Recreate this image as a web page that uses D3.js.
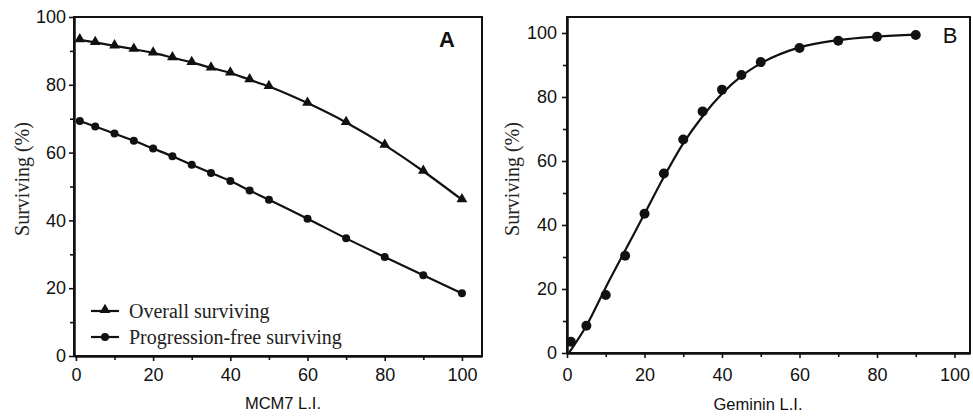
<!doctype html>
<html>
<head>
    <style>
        body { margin: 0; background: #fff; }
        .tick text { font-family: 'Liberation Sans', Arial, sans-serif; font-size: 18px; fill: #111; }
        .title { font-family: 'Liberation Sans', Arial, sans-serif; font-size: 16.5px; fill: #111; }
        .ytitle, .legend { font-family: 'Liberation Serif', 'Times New Roman', serif; font-size: 20px; fill: #222; }
    </style>
    <script src="https://d3js.org/d3.v7.min.js"></script>
</head>
<body>
    <script>
        /*** data ***/
        var mcmX = [1, 5, 10, 15, 20, 25, 30, 35, 40, 45, 50, 60, 70, 80, 90, 100];
        var overall = [93.3, 92.5, 91.5, 90.5, 89.4, 88.0, 86.6, 85.0, 83.5, 81.5, 79.5, 74.6, 68.9, 62.2, 54.5, 46.1];
        var progFree = [69.3, 67.7, 65.6, 63.5, 61.2, 58.9, 56.4, 54.0, 51.6, 48.8, 46.1, 40.5, 34.7, 29.2, 23.8, 18.5];

        var gemX = [1, 5, 10, 15, 20, 25, 30, 35, 40, 45, 50, 60, 70, 80, 90];
        var gemY = [3.5, 8.5, 18.1, 30.4, 43.5, 56.1, 66.7, 75.5, 82.3, 86.9, 90.9, 95.3, 97.6, 98.8, 99.4];
        // fitted curve
        var fitX = [0.5, 5, 10, 15, 20, 25, 30, 35, 40, 45, 50, 60, 70, 80, 90];
        var fitY = [0, 8.5, 20.5, 32, 43.5, 55, 65.5, 74, 81, 86.5, 90.5, 95.5, 97.8, 98.9, 99.5];

        var majorTicks = [0, 20, 40, 60, 80, 100];
        var minorTicks = [10, 30, 50, 70, 90];
        var legendLabels = ["Overall surviving", "Progression-free surviving"];

        var svg = d3.select("body").append("svg").attr("width", 973).attr("height", 418);

        function drawAxes(x, y, opt) {
            var g = svg.append("g");
            var x0 = x.range()[0], x1 = x.range()[1];
            var y0 = y.range()[0], y1 = y.range()[1];

            // frame
            g.append("rect")
                .attr("x", x0).attr("y", y1)
                .attr("width", x1 - x0).attr("height", y0 - y1)
                .attr("fill", "none").attr("stroke", "#111").attr("stroke-width", 2);

            g.append("g").attr("transform", "translate(0," + y0 + ")")
                .call(d3.axisBottom(x).tickValues(majorTicks).tickSize(5).tickPadding(opt.xPad).tickSizeOuter(0));
            g.append("g").attr("transform", "translate(0," + y0 + ")")
                .call(d3.axisBottom(x).tickValues(minorTicks).tickSize(4).tickFormat("").tickSizeOuter(0));
            g.append("g").attr("transform", "translate(" + x0 + ",0)")
                .call(d3.axisLeft(y).tickValues(majorTicks).tickSize(5).tickPadding(opt.yPad).tickSizeOuter(0));
            g.append("g").attr("transform", "translate(" + x0 + ",0)")
                .call(d3.axisLeft(y).tickValues(minorTicks).tickSize(4).tickFormat("").tickSizeOuter(0));

            g.selectAll(".domain").attr("stroke", "#111").attr("stroke-width", 2);
            g.selectAll(".tick line").attr("stroke", "#111").attr("stroke-width", 1.6);

            g.append("text").attr("class", "title")
                .attr("x", opt.xtX).attr("y", opt.xtY)
                .attr("text-anchor", "middle")
                .text(opt.xTitle);

            g.append("text").attr("class", "ytitle")
                .attr("transform", "translate(" + opt.ytX + "," + opt.ytY + ") rotate(-90)")
                .attr("text-anchor", "middle")
                .attr("dy", "0.35em")
                .text("Surviving (%)");

            g.append("text")
                .attr("x", opt.lblX).attr("y", opt.lblY)
                .attr("text-anchor", "middle")
                .style("font-family", "'Liberation Sans', Arial, sans-serif")
                .style("font-size", opt.lblSize + "px")
                .style("font-weight", opt.lblWeight)
                .attr("fill", "#111")
                .text(opt.label);
            return g;
        }

        /*** Panel A ***/
        var xA = d3.scaleLinear().domain([-0.5, 105.2]).range([74, 482]);
        var yA = d3.scaleLinear().domain([0, 100]).range([356, 17]);
        drawAxes(xA, yA, {
            xPad: 7, yPad: 3, xTitle: "MCM7 L.I.", xtX: 283, xtY: 409,
            ytX: 22, ytY: 179, label: "A", lblX: 447, lblY: 47, lblSize: 22, lblWeight: "bold"
        });

        var triangle = d3.symbol().type(d3.symbolTriangle).size(50);
        var lineA = d3.line().curve(d3.curveMonotoneX)
            .x(function(d) { return xA(d[0]); })
            .y(function(d) { return yA(d[1]); });

        [overall, progFree].forEach(function(series, i) {
            var pts = mcmX.map(function(v, j) { return [v, series[j]]; });
            svg.append("path").datum(pts)
                .attr("d", lineA)
                .attr("fill", "none").attr("stroke", "#111").attr("stroke-width", 2.2);
            if (i === 0) {
                svg.selectAll(".tri").data(pts).enter().append("path")
                    .attr("d", triangle)
                    .attr("transform", function(d) { return "translate(" + xA(d[0]) + "," + (yA(d[1]) - 0.5) + ")"; })
                    .attr("fill", "#111");
            } else {
                svg.selectAll(".dot").data(pts).enter().append("circle")
                    .attr("cx", function(d) { return xA(d[0]); })
                    .attr("cy", function(d) { return yA(d[1]); })
                    .attr("r", 4)
                    .attr("fill", "#111");
            }
        });

        // legend
        var leg = svg.append("g");
        legendLabels.forEach(function(t, i) {
            var ly = 311 + i * 26;
            leg.append("line").attr("x1", 91).attr("x2", 119).attr("y1", ly).attr("y2", ly)
                .attr("stroke", "#111").attr("stroke-width", 2.2);
            if (i === 0) {
                leg.append("path").attr("d", triangle)
                    .attr("transform", "translate(105," + (ly - 1) + ")").attr("fill", "#111");
            } else {
                leg.append("circle").attr("cx", 105).attr("cy", ly).attr("r", 4).attr("fill", "#111");
            }
            leg.append("text").attr("class", "legend")
                .attr("x", 129).attr("y", ly).attr("dy", "0.33em")
                .text(t);
        });

        /*** Panel B ***/
        var xB = d3.scaleLinear().domain([0, 104]).range([567, 970]);
        var yB = d3.scaleLinear().domain([0, 105]).range([353, 17]);
        drawAxes(xB, yB, {
            xPad: 10, yPad: 5, xTitle: "Geminin L.I.", xtX: 758, xtY: 410,
            ytX: 512, ytY: 179, label: "B", lblX: 950, lblY: 43, lblSize: 22, lblWeight: "normal"
        });

        var lineB = d3.line().curve(d3.curveMonotoneX)
            .x(function(d) { return xB(d[0]); })
            .y(function(d) { return yB(d[1]); });
        svg.append("path").datum(fitX.map(function(v, j) { return [v, fitY[j]]; }))
            .attr("d", lineB)
            .attr("fill", "none").attr("stroke", "#111").attr("stroke-width", 2.2);
        svg.selectAll(".gdot").data(gemX.map(function(v, j) { return [v, gemY[j]]; }))
            .enter().append("circle")
            .attr("cx", function(d) { return xB(d[0]); })
            .attr("cy", function(d) { return yB(d[1]); })
            .attr("r", 5)
            .attr("fill", "#111");
    </script>
</body>
</html>
